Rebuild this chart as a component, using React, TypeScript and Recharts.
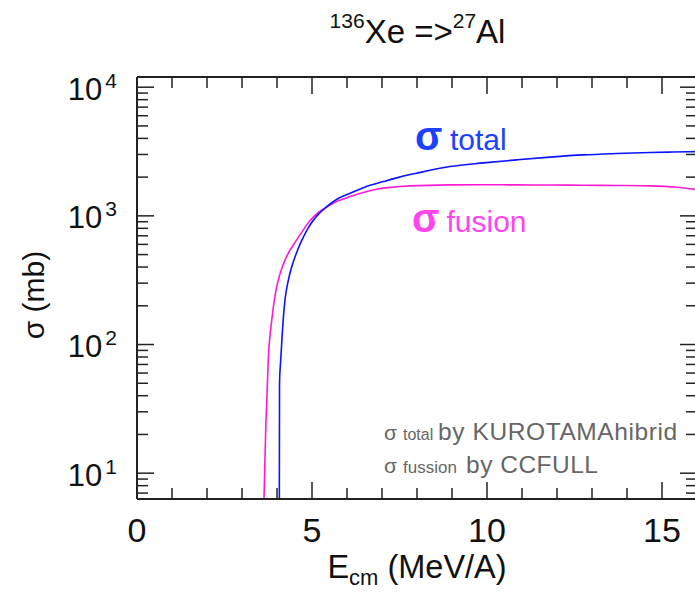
import React from 'react';
import { LineChart, Line, XAxis, YAxis } from 'recharts';

// sigma_total (KUROTAMA hibrid)
const totalEnergy = [4.065, 4.072, 4.106, 4.157, 4.229, 4.314, 4.42, 4.557, 4.714, 4.894, 5.114, 5.371, 5.7, 6.09, 6.5, 7.04, 7.5, 7.99, 8.94, 9.9, 10.85, 11.8, 12.75, 13.7, 14.66, 15.3, 16];
const totalSigma = [3, 50, 76, 130, 223, 307, 401, 515, 650, 806, 982, 1148, 1340, 1500, 1670, 1846, 2000, 2146, 2417, 2580, 2723, 2860, 2978, 3050, 3104, 3135, 3160];

// sigma_fusion (CCFULL)
const fusionEnergy = [3.61, 3.68, 3.75, 3.85, 3.957, 4.086, 4.257, 4.466, 4.657, 4.849, 5.029, 5.2, 5.371, 5.7, 6.09, 6.85, 7.8, 8.94, 9.9, 10.85, 11.8, 12.75, 13.7, 14.66, 15.42, 16];
const fusionSigma = [4, 23, 76, 155, 252, 354, 472, 594, 711, 851, 973, 1074, 1148, 1290, 1412, 1611, 1710, 1741, 1745, 1741, 1736, 1731, 1722, 1710, 1670, 1600];

const xDomain = [0, 16];
const xTicks = [0, 1, 2, 3, 4, 5, 6, 7, 8, 9, 10, 11, 12, 13, 14, 15, 16];
const xMajor = [0, 5, 10, 15];
const yDomain = [6.3, 12000];
const yTicks = [7, 8, 9, 10, 20, 30, 40, 50, 60, 70, 80, 90, 100, 200, 300, 400, 500, 600, 700, 800, 900, 1000, 2000, 3000, 4000, 5000, 6000, 7000, 8000, 9000, 10000];
const yMajor = [10, 100, 1000, 10000];

const totalData = totalEnergy.map((e, i) => ({ e, s: totalSigma[i] }));
const fusionData = fusionEnergy.map((e, i) => ({ e, s: fusionSigma[i] }));

const FONT = '"Liberation Sans", Arial, Helvetica, sans-serif';
const AX = '#222';
const MAJ = 17;
const MIN = 11;

const BottomTick = (props: any) => {
  const { x, y, payload } = props;
  const v = payload.value;
  const major = xMajor.includes(v);
  return (
    <g>
      {v > 0 && v < 16 && (
        <line x1={x} x2={x} y1={y} y2={y - (major ? MAJ : MIN)} stroke={AX} strokeWidth={1.5} />
      )}
      {major && (
        <text x={x} y={y + 43} textAnchor="middle" fontSize={34} fontFamily={FONT} fill="#111">
          {v}
        </text>
      )}
    </g>
  );
};

const TopTick = (props: any) => {
  const { x, y, payload } = props;
  const v = payload.value;
  const major = xMajor.includes(v);
  if (v <= 0 || v >= 16) return <g />;
  return <line x1={x} x2={x} y1={y} y2={y + (major ? MAJ : MIN)} stroke={AX} strokeWidth={1.5} />;
};

const LeftTick = (props: any) => {
  const { x, y, payload } = props;
  const v = payload.value;
  const major = yMajor.includes(v);
  const exp = Math.round(Math.log10(v));
  return (
    <g>
      <line x1={x} x2={x + (major ? MAJ : MIN)} y1={y} y2={y} stroke={AX} strokeWidth={1.5} />
      {major && (
        <text x={x - 20} y={y + 12.5} textAnchor="end" fontSize={31} fontFamily={FONT} fill="#111">
          10
          <tspan dx={3} dy={-12} fontSize={21}>
            {exp}
          </tspan>
        </text>
      )}
    </g>
  );
};

const RightTick = (props: any) => {
  const { x, y, payload } = props;
  const v = payload.value;
  const major = yMajor.includes(v);
  return <line x1={x - (major ? MAJ : MIN)} x2={x} y1={y} y2={y} stroke={AX} strokeWidth={1.5} />;
};

const axisLine = { stroke: AX, strokeWidth: 2 };

export default function App() {
  return (
    <div
      style={{
        position: 'absolute',
        left: 0,
        top: 0,
        width: 695,
        height: 598,
        overflow: 'hidden',
        background: '#fff',
      }}
    >
      <div style={{ position: 'relative', width: 720, height: 598 }}>
        <LineChart width={720} height={598} data={totalData} margin={{ top: 76, right: 22, bottom: 39, left: 57 }}>
          <XAxis
            xAxisId="b"
            dataKey="e"
            type="number"
            domain={xDomain}
            ticks={xTicks}
            interval={0}
            allowDataOverflow
            height={60}
            tickSize={0}
            tickMargin={0}
            tickLine={false}
            axisLine={axisLine}
            tick={BottomTick}
          />
          <XAxis
            xAxisId="t"
            orientation="top"
            dataKey="e"
            type="number"
            domain={xDomain}
            ticks={xTicks}
            interval={0}
            allowDataOverflow
            height={1}
            tickSize={0}
            tickMargin={0}
            tickLine={false}
            axisLine={axisLine}
            tick={TopTick}
          />
          <YAxis
            yAxisId="l"
            type="number"
            scale="log"
            domain={yDomain}
            ticks={yTicks}
            interval={0}
            allowDataOverflow
            width={80}
            tickSize={0}
            tickMargin={0}
            tickLine={false}
            axisLine={axisLine}
            tick={LeftTick}
          />
          <YAxis
            yAxisId="r"
            orientation="right"
            type="number"
            scale="log"
            domain={yDomain}
            ticks={yTicks}
            interval={0}
            allowDataOverflow
            width={1}
            tickSize={0}
            tickMargin={0}
            tickLine={false}
            axisLine={axisLine}
            tick={RightTick}
          />
          <Line
            xAxisId="b"
            yAxisId="l"
            data={fusionData}
            dataKey="s"
            type="monotone"
            stroke="#ff1ad2"
            strokeWidth={1.6}
            dot={false}
            isAnimationActive={false}
          />
          <Line
            xAxisId="b"
            yAxisId="l"
            data={totalData}
            dataKey="s"
            type="monotone"
            stroke="#0a14ff"
            strokeWidth={1.6}
            dot={false}
            isAnimationActive={false}
          />
        </LineChart>
        <svg
          width={720}
          height={598}
          style={{ position: 'absolute', left: 0, top: 0, pointerEvents: 'none' }}
          fontFamily={FONT}
        >
          <text x={417.5} y={43.3} textAnchor="middle" fontSize={33} fill="#111">
            <tspan fontSize={21} dy={-15}>136</tspan>
            <tspan dy={15}>{'Xe =>'}</tspan>
            <tspan fontSize={21} dy={-15}>27</tspan>
            <tspan dy={15}>Al</tspan>
          </text>
          <text x={417} y={577.5} textAnchor="middle" fontSize={32.5} fill="#111" style={{ whiteSpace: 'pre' }}>
            E<tspan fontSize={22} dy={7}>cm</tspan>
            <tspan dy={-7}>{' (MeV/A)'}</tspan>
          </text>
          <text
            x={44}
            y={295}
            transform="rotate(-90, 44, 295)"
            textAnchor="middle"
            fontSize={30}
            fill="#111"
          >
            {'σ (mb)'}
          </text>
          <text y={150} fill="#1e40ff">
            <tspan x={415} fontSize={40} fontWeight={700}>σ</tspan>
            <tspan x={450} fontSize={30}>total</tspan>
          </text>
          <text y={231.5} fill="#ff45ee">
            <tspan x={412} fontSize={40} fontWeight={700}>σ</tspan>
            <tspan x={446.5} fontSize={30}>fusion</tspan>
          </text>
          <text y={440} fill="#666">
            <tspan x={384} fontSize={21}>σ</tspan>
            <tspan x={403} fontSize={16}>total</tspan>
            <tspan x={438} fontSize={24.5} letterSpacing={0.6}>by KUROTAMAhibrid</tspan>
          </text>
          <text y={472.7} fill="#666">
            <tspan x={384} fontSize={21}>σ</tspan>
            <tspan x={403} fontSize={17}>fussion</tspan>
            <tspan x={466} fontSize={24.5} letterSpacing={0.5}>by CCFULL</tspan>
          </text>
        </svg>
      </div>
    </div>
  );
}
